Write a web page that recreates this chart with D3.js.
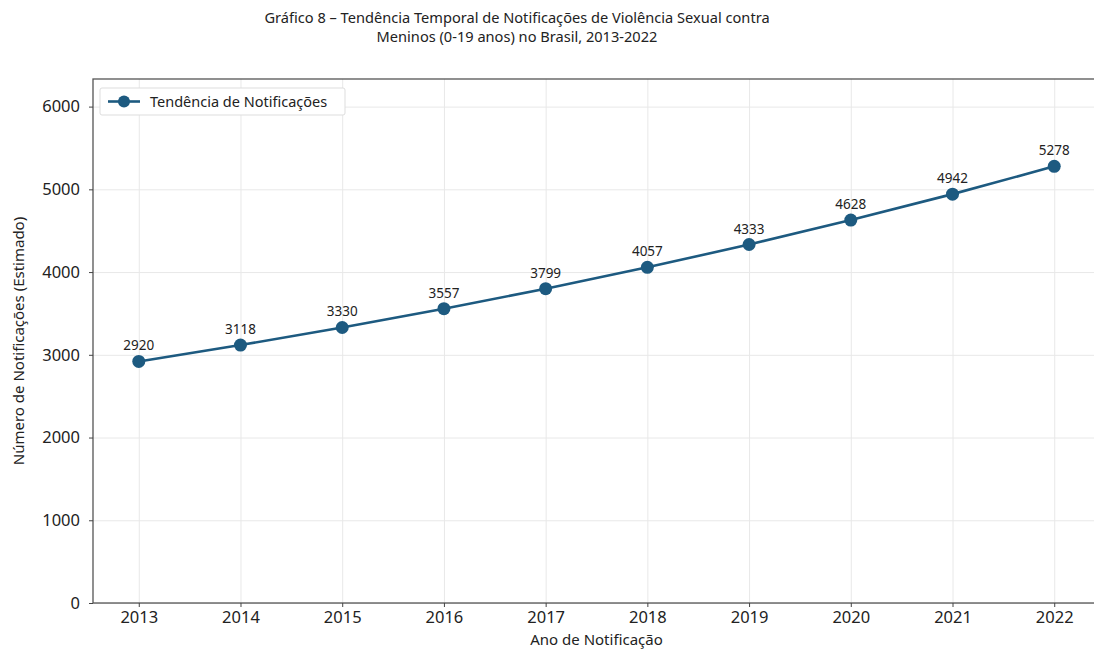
<!DOCTYPE html>
<meta charset="utf-8">
<style>
body { margin: 0; background: #fff; }
text { font-family: "Noto Sans", "Open Sans", sans-serif; fill: #222; }
.tick line { stroke: #444; }
.grid line { stroke: #e8e8e8; stroke-width: 1; }
.grid path { display: none; }
</style>
<svg width="1094" height="652"></svg>
<script src="https://cdn.jsdelivr.net/npm/d3@7"></script>
<script>

var years = [2013, 2014, 2015, 2016, 2017, 2018, 2019, 2020, 2021, 2022];
var counts = [2920, 3118, 3330, 3557, 3799, 4057, 4333, 4628, 4942, 5278];
var yTicks = [0, 1000, 2000, 3000, 4000, 5000, 6000];

var svg = d3.select("svg"),
    plotL = 93, plotR = 1100, plotT = 79, plotB = 603,
    color = "#1d5a80";

var x = d3.scaleLinear().domain([2012.55, 2022.45]).range([plotL, plotR]);
var y = d3.scaleLinear().domain([0, d3.max(counts) * 1.2]).range([plotB, plotT]);

// grid
svg.append("g").attr("class", "grid")
    .attr("transform", "translate(0," + plotB + ")")
    .call(d3.axisBottom(x).tickValues(years).tickSize(-(plotB - plotT)).tickFormat(""));
svg.append("g").attr("class", "grid")
    .attr("transform", "translate(" + plotL + ",0)")
    .call(d3.axisLeft(y).tickValues(yTicks).tickSize(-(plotR - plotL)).tickFormat(""));

// frame
svg.append("rect")
    .attr("x", plotL).attr("y", plotT)
    .attr("width", plotR - plotL).attr("height", plotB - plotT)
    .attr("fill", "none").attr("stroke", "#555").attr("stroke-width", 1.3);

var xAxis = svg.append("g")
    .attr("transform", "translate(0," + plotB + ")")
    .call(d3.axisBottom(x).tickValues(years).tickFormat(d3.format("d")).tickSize(4).tickPadding(4));
var yAxis = svg.append("g")
    .attr("transform", "translate(" + plotL + ",0)")
    .call(d3.axisLeft(y).tickValues(yTicks).tickFormat(d3.format("d")).tickSize(4).tickPadding(9));
[xAxis, yAxis].forEach(function(a) {
  a.select(".domain").remove();
  a.selectAll("text").style("font-size", "16.5px").attr("fill", "#222");
});

var line = d3.line()
    .x(function(d, i) { return x(years[i]); })
    .y(function(d) { return y(d); });

svg.append("path")
    .datum(counts)
    .attr("d", line)
    .attr("fill", "none")
    .attr("stroke", color)
    .attr("stroke-width", 2.6);

svg.selectAll("circle.pt")
  .data(counts)
  .enter().append("circle")
    .attr("class", "pt")
    .attr("cx", function(d, i) { return x(years[i]); })
    .attr("cy", function(d) { return y(d); })
    .attr("r", 6.5)
    .attr("fill", color);

svg.selectAll("text.val")
  .data(counts)
  .enter().append("text")
    .attr("class", "val")
    .attr("x", function(d, i) { return x(years[i]); })
    .attr("y", function(d) { return y(d) - 11; })
    .attr("text-anchor", "middle")
    .style("font-size", "13.5px")
    .text(function(d) { return d; });

// legend
var lg = svg.append("g").attr("transform", "translate(100,88)");
lg.append("rect").attr("width", 245).attr("height", 27).attr("rx", 2)
    .attr("fill", "#fff").attr("stroke", "#ddd");
lg.append("line").attr("x1", 8).attr("x2", 40).attr("y1", 13.5).attr("y2", 13.5)
    .attr("stroke", color).attr("stroke-width", 2.6);
lg.append("circle").attr("cx", 24).attr("cy", 13.5).attr("r", 6).attr("fill", color);
lg.append("text").attr("x", 50).attr("y", 19).style("font-size", "14.5px")
    .text("Tendência de Notificações");

// titles
svg.append("text").attr("x", 517).attr("y", 23).attr("text-anchor", "middle")
    .style("font-size", "14.6px")
    .text("Gráfico 8 – Tendência Temporal de Notificações de Violência Sexual contra");
svg.append("text").attr("x", 517).attr("y", 42).attr("text-anchor", "middle")
    .style("font-size", "14.6px")
    .text("Meninos (0-19 anos) no Brasil, 2013-2022");

svg.append("text").attr("x", (plotL + plotR) / 2).attr("y", 645).attr("text-anchor", "middle")
    .style("font-size", "15px").text("Ano de Notificação");
svg.append("text")
    .attr("transform", "translate(24," + (plotT + plotB) / 2 + ") rotate(-90)")
    .attr("text-anchor", "middle")
    .style("font-size", "15px").text("Número de Notificações (Estimado)");

</script>
